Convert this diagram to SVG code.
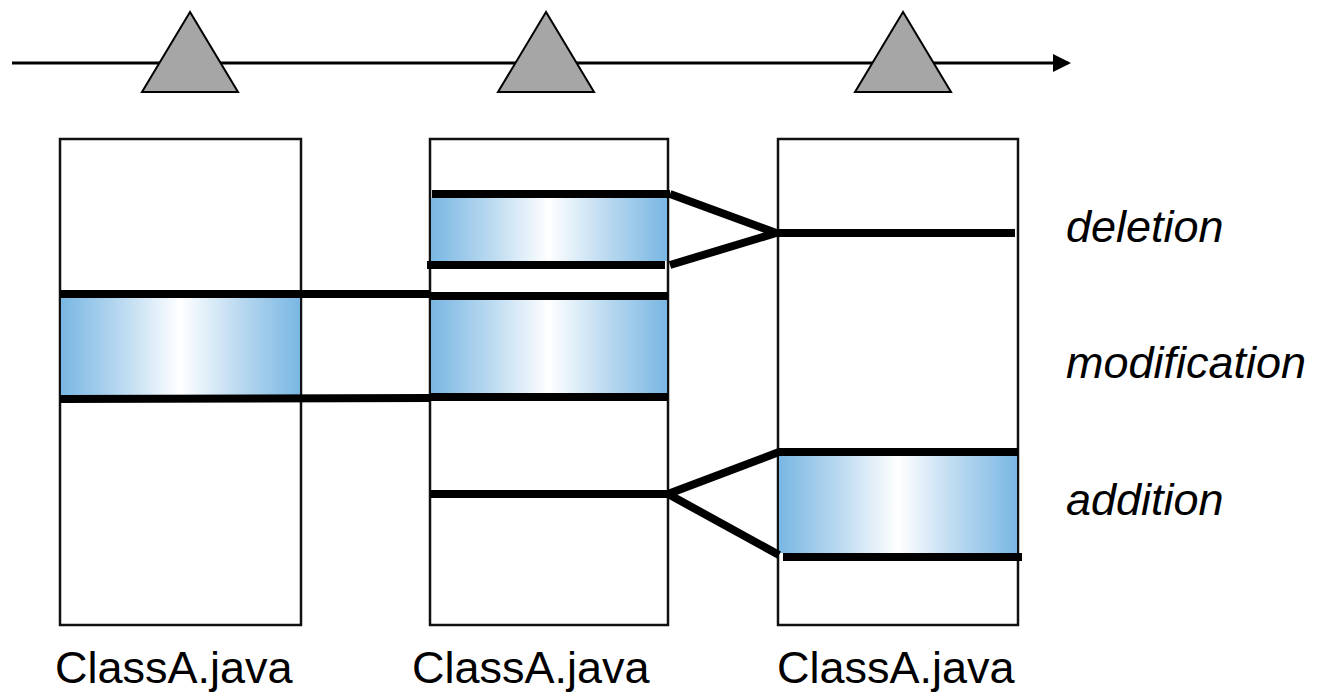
<svg xmlns="http://www.w3.org/2000/svg" width="1330" height="692" viewBox="0 0 1330 692">
<style>
.box{fill:#fff;stroke:#111;stroke-width:2.5}
.tri{fill:#a6a6a6;stroke:#000;stroke-width:2;stroke-linejoin:miter}
.thick{stroke:#000;stroke-width:8;fill:none}
.band{fill:url(#g)}
.lbl{font-family:"Liberation Sans",Arial,sans-serif;font-size:45px;fill:#000}
.it{font-style:italic}
</style>
<defs>
<linearGradient id="g" x1="0" y1="0" x2="1" y2="0">
<stop offset="0" stop-color="#79b7e3"/>
<stop offset="0.25" stop-color="#b9d9f0"/>
<stop offset="0.5" stop-color="#ffffff"/>
<stop offset="0.75" stop-color="#b9d9f0"/>
<stop offset="1" stop-color="#79b7e3"/>
</linearGradient>
<marker id="ah" markerWidth="6" markerHeight="6" refX="5" refY="3" orient="auto" markerUnits="strokeWidth">
<path d="M0,0 L6,3 L0,6 z" fill="#000"/>
</marker>
</defs>
<g id="timeline">
<line x1="12" y1="63" x2="1068" y2="63" stroke="#000" stroke-width="3" marker-end="url(#ah)"/>
<polygon class="tri" points="190,12 142,92 238,92"/>
<polygon class="tri" points="546,12 498,92 594,92"/>
<polygon class="tri" points="903,12 855,92 951,92"/>
</g>
<g id="file1">
<rect class="box" x="60" y="139" width="241" height="486"/>
<rect class="band" x="61" y="298" width="239" height="97"/>
<text class="lbl" x="55" y="683">ClassA.java</text>
</g>
<g id="file2">
<rect class="box" x="430" y="139" width="238" height="486"/>
<rect class="band" x="431" y="198" width="236" height="63"/>
<rect class="band" x="431" y="300" width="236" height="93"/>
<text class="lbl" x="412" y="683">ClassA.java</text>
</g>
<g id="file3">
<rect class="box" x="778" y="139" width="240" height="486"/>
<rect class="band" x="779" y="456" width="238" height="97"/>
<text class="lbl" x="777" y="683">ClassA.java</text>
</g>
<g id="connectors">
<line class="thick" x1="60" y1="294" x2="430" y2="294"/>
<line class="thick" x1="430" y1="296" x2="668" y2="296"/>
<line class="thick" x1="60" y1="399" x2="430" y2="398"/>
<line class="thick" x1="430" y1="397" x2="668" y2="397"/>
<line class="thick" x1="432" y1="194" x2="670" y2="194"/>
<line class="thick" x1="427" y1="265" x2="665" y2="265"/>
<polyline class="thick" points="670,194 776,233 670,265"/>
<line class="thick" x1="776" y1="233" x2="1015" y2="233"/>
<line class="thick" x1="430" y1="494" x2="668" y2="494"/>
<polyline class="thick" points="779,452 668,494 779,555"/>
<line class="thick" x1="779" y1="452" x2="1018" y2="452"/>
<line class="thick" x1="783" y1="557" x2="1022" y2="557"/>
</g>
<g id="labels">
<text class="lbl it" x="1066" y="242">deletion</text>
<text class="lbl it" x="1066" y="378">modification</text>
<text class="lbl it" x="1066" y="515">addition</text>
</g>
</svg>
